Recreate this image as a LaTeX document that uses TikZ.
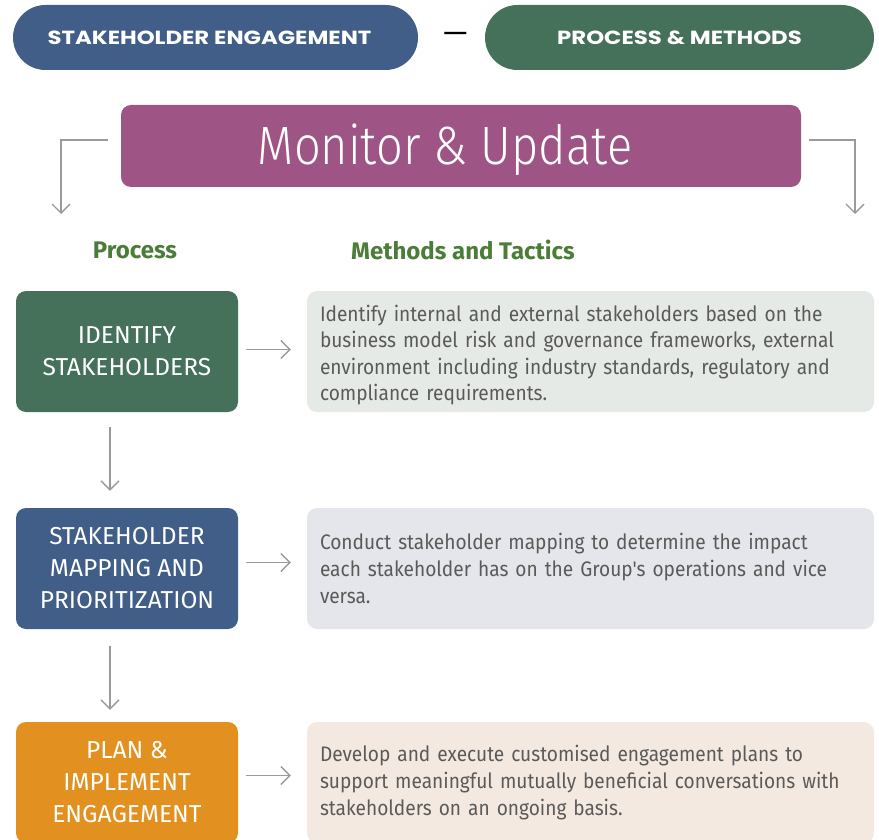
\documentclass[tikz,border=0pt]{standalone}
\usepackage{fontspec}
\setmainfont{Fira Sans}
\newfontfamily\lightf{Fira Sans Light}[FakeStretch=0.87]
\newfontfamily\condf{Fira Sans}[FakeStretch=0.91]
\newfontfamily\popf{Poppins}[FakeStretch=1.2]
\newfontfamily\dashf{Poppins}
\usetikzlibrary{arrows.meta}
\definecolor{sblue}{HTML}{405E87}
\definecolor{sgreen}{HTML}{45705A}
\definecolor{spurple}{HTML}{9E5485}
\definecolor{sorange}{HTML}{E2901F}
\definecolor{dgreen}{HTML}{E6EAE6}
\definecolor{dblue}{HTML}{E5E6EB}
\definecolor{dbeige}{HTML}{F4E9E1}
\definecolor{headgreen}{HTML}{4A7D38}
\definecolor{txtgray}{HTML}{5A5A5A}
\definecolor{arrgray}{HTML}{9A9A9A}
\begin{document}
\begin{tikzpicture}[x=1pt,y=-1pt,
  pill/.style={rounded corners=32.5pt, minimum height=65pt, text=white, inner sep=0pt,
    font=\popf\bfseries\fontsize{19}{24}\selectfont},
  procbox/.style={rounded corners=10pt, minimum width=222pt, minimum height=121pt, text=white,
    align=center, inner sep=0pt, font=\fontsize{24.5}{32}\selectfont},
  descbox/.style={rounded corners=10pt, minimum width=567pt, minimum height=121pt, inner sep=0pt},
  desctext/.style={text=txtgray, align=left, text width=541pt, inner sep=0pt,
    font=\condf\fontsize{21}{26.6}\selectfont},
  heading/.style={text=headgreen, font=\bfseries\fontsize{24}{28}\selectfont},
  arr/.style={draw=arrgray, line width=1.4pt, -{Straight Barb[length=9pt,width=18pt]}}
]
\useasboundingbox (0,0) rectangle (879,840);
\clip (0,0) rectangle (879,840);

\node[pill, fill=sblue, minimum width=405pt] (p1) at (215.5,37.5) {STAKEHOLDER ENGAGEMENT\hspace*{12pt}};
\node[text=black, font=\dashf\fontsize{30}{30}\selectfont] (dash) at (456,38) {—};
\node[pill, fill=sgreen, minimum width=389pt] (p2) at (679.5,37.5) {PROCESS \& METHODS};

\node[rounded corners=10pt, fill=spurple, minimum width=680pt, minimum height=82pt] (mon) at (461,146) {};
\node[text=white, font=\lightf\fontsize{54}{60}\selectfont] (monlabel) at (445,150) {Monitor \& Update};

\coordinate (lend) at (61,214);
\coordinate (rend) at (855,214);
\draw[arr] ([xshift=-13pt,yshift=6pt]mon.west) -| (lend);
\draw[arr] ([xshift=8pt,yshift=6pt]mon.east) -| (rend);

\node[heading] (hp) at (135,250) {Process};
\node[heading] (hm) at (463,250) {Methods and Tactics};

\node[procbox, fill=sgreen] (b1) at (127,351.5) {IDENTIFY\\STAKEHOLDERS};
\node[procbox, fill=sblue] (b2) at (127,568.5) {STAKEHOLDER\\MAPPING AND\\PRIORITIZATION};
\node[procbox, fill=sorange] (b3) at (127,782.5) {PLAN \&\\IMPLEMENT\\ENGAGEMENT};

\node[descbox, fill=dgreen] (d1) at (590.5,351.5) {};
\node[descbox, fill=dblue] (d2) at (590.5,568.5) {};
\node[descbox, fill=dbeige] (d3) at (590.5,782.5) {};

\node[desctext] (t1) at (590.5,355) {Identify internal and external stakeholders based on the\\business model risk and governance frameworks, external\\environment including industry standards, regulatory and\\compliance requirements.};
\node[desctext] (t2) at (590.5,568.5) {Conduct stakeholder mapping to determine the impact\\each stakeholder has on the Group's operations and vice\\versa.};
\node[desctext] (t3) at (590.5,782.5) {Develop and execute customised engagement plans to\\support meaningful mutually beneficial conversations with\\stakeholders on an ongoing basis.};

\draw[arr] ([xshift=8pt,yshift=2pt]b1.east) -- ([xshift=-16pt,yshift=2pt]b1.east -| d1.west);
\draw[arr] ([xshift=8pt,yshift=6pt]b2.east) -- ([xshift=-16pt,yshift=6pt]b2.east -| d2.west);
\draw[arr] ([xshift=8pt,yshift=7pt]b3.east) -- ([xshift=-16pt,yshift=7pt]b3.east -| d3.west);

\draw[arr] ([xshift=-17pt,yshift=-15pt]b1.south) -- ([xshift=-17pt,yshift=17pt]b2.north);
\draw[arr] ([xshift=-17pt,yshift=-17pt]b2.south) -- ([xshift=-17pt,yshift=12pt]b3.north);
\end{tikzpicture}
\end{document}
